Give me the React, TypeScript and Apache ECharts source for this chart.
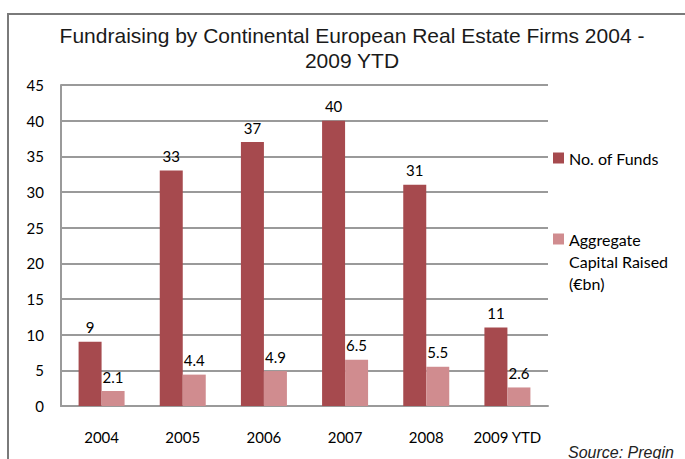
import React, { useEffect, useRef } from "react";
import * as echarts from "echarts";

const categories = ["2004", "2005", "2006", "2007", "2008", "2009 YTD"];
const funds = [9, 33, 37, 40, 31, 11];
const capital = [2.1, 4.4, 4.9, 6.5, 5.5, 2.6];
const seriesNames = ["No. of Funds", "Aggregate Capital Raised (€bn)"];
const legendLines = ["Aggregate", "Capital Raised", "(€bn)"];
const titleText = "Fundraising by Continental European Real Estate Firms 2004 -\n2009 YTD";
const sourceText = "Source: Preqin";

const DARK = "#A64A4E";
const LIGHT = "#D08C8F";
const GRID = "#9a9a9a";
const FONT = "Lato";

export default function App() {
  const ref = useRef<HTMLDivElement>(null);
  useEffect(() => {
    if (!ref.current) return;
    const chart = echarts.init(ref.current, null, { renderer: "svg" });
    const label = {
      show: true,
      position: "top",
      distance: 7,
      color: "#000",
      fontFamily: FONT,
      fontSize: 15,
    };
    const legendBase = {
      left: 553,
      padding: 0,
      icon: "rect",
      itemWidth: 11,
      itemHeight: 11,
      itemGap: 0,
    };
    chart.setOption({
      animation: false,
      backgroundColor: "#fff",
      title: {
        text: titleText,
        left: 352,
        textAlign: "center",
        top: 23,
        padding: 0,
        textStyle: {
          fontFamily: "Liberation Sans",
          fontWeight: "normal",
          fontSize: 21,
          lineHeight: 25,
          color: "#1a1a1a",
        },
      },
      legend: [
        {
          ...legendBase,
          data: [seriesNames[0]],
          top: 147,
          textStyle: { fontFamily: FONT, fontSize: 16, lineHeight: 22, color: "#000" },
        },
        {
          ...legendBase,
          data: [seriesNames[1]],
          top: 184,
          formatter: () => "\n\n" + legendLines.join("\n"),
          textStyle: { fontFamily: FONT, fontSize: 16, lineHeight: 22, color: "#000" },
        },
      ],
      grid: { left: 61, right: 137, top: 85, bottom: 53, containLabel: false },
      xAxis: {
        type: "category",
        data: categories,
        axisTick: { show: false },
        axisLine: { lineStyle: { color: GRID, width: 2 } },
        axisLabel: { color: "#000", fontFamily: FONT, fontSize: 15, margin: 23, interval: 0 },
      },
      yAxis: {
        type: "value",
        min: 0,
        max: 45,
        interval: 5,
        axisLine: { show: true, lineStyle: { color: GRID, width: 2 } },
        axisTick: { show: false },
        splitLine: { lineStyle: { color: GRID, width: 2 } },
        axisLabel: { color: "#000", fontFamily: FONT, fontSize: 15, margin: 17 },
      },
      series: [
        {
          name: seriesNames[0],
          type: "bar",
          data: funds,
          barWidth: 23,
          barGap: "0%",
          itemStyle: { color: DARK },
          label,
        },
        {
          name: seriesNames[1],
          type: "bar",
          data: capital,
          barWidth: 23,
          barGap: "0%",
          itemStyle: { color: LIGHT },
          label,
        },
      ],
      graphic: [
        {
          type: "rect",
          z: -1,
          silent: true,
          shape: { x: 8, y: 14, width: 720, height: 480 },
          style: { fill: "none", stroke: "#7a7a7a", lineWidth: 2 },
        },
        {
          type: "text",
          left: 568,
          top: 444,
          silent: true,
          style: {
            text: sourceText,
            font: "italic 16px 'Liberation Sans'",
            fill: "#222",
          },
        },
      ],
    });
    return () => chart.dispose();
  }, []);
  return (
    <div
      ref={ref}
      style={{ position: "fixed", left: 0, top: 0, width: 685, height: 459 }}
    />
  );
}
